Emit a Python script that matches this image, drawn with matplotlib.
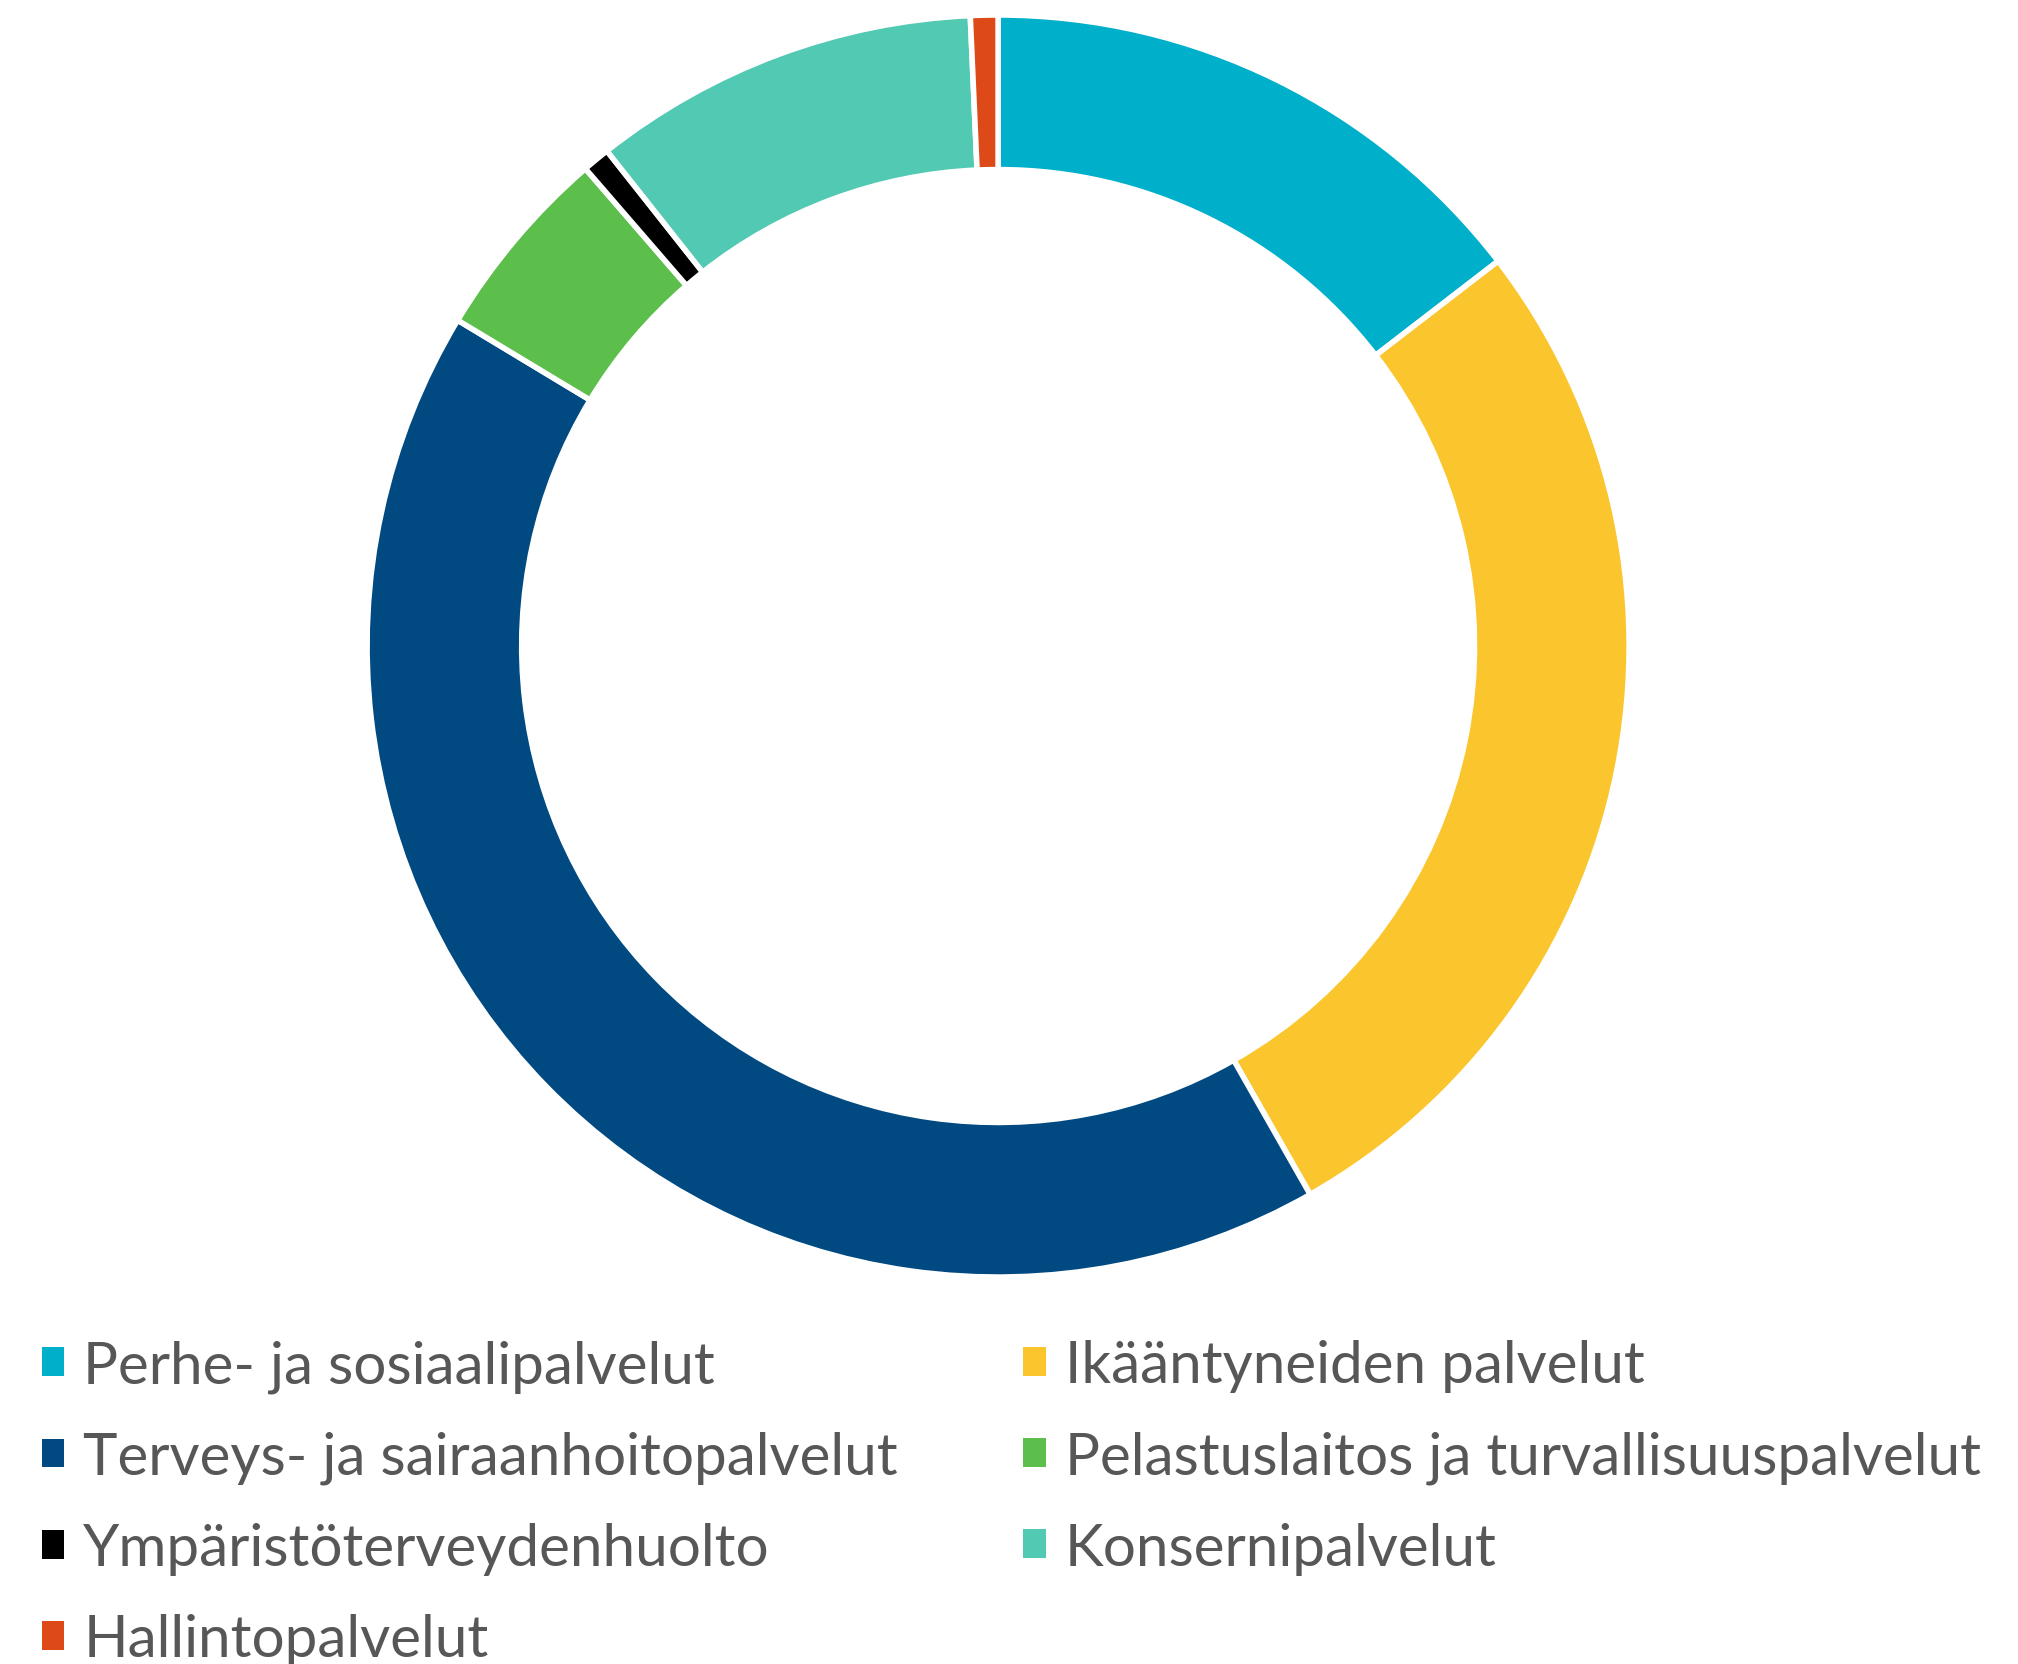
import matplotlib
matplotlib.use("Agg")
import matplotlib.pyplot as plt
from matplotlib.patches import Patch

# Data (share of total, %)
labels = [
    "Perhe- ja sosiaalipalvelut",
    "Ikääntyneiden palvelut",
    "Terveys- ja sairaanhoitopalvelut",
    "Pelastuslaitos ja turvallisuuspalvelut",
    "Ympäristöterveydenhuolto",
    "Konsernipalvelut",
    "Hallintopalvelut",
]
shares = [14.5, 27.1, 41.7, 5.0, 0.7, 9.9, 0.7]
colors = ["#00AFC9", "#FBC52E", "#004A81", "#5CBF4B", "#000000", "#52C9B3", "#DD4A17"]

plt.rcParams["font.family"] = ["Lato", "DejaVu Sans"]

fig = plt.figure(figsize=(20.18, 16.65), dpi=100)

# donut
ax = fig.add_axes([0.1819, 0.2324, 0.6254, 0.758])
ax.pie(shares, colors=colors, startangle=90, counterclock=False, radius=1.0,
       wedgeprops=dict(width=0.245, edgecolor="white", linewidth=4))
ax.set_xlim(-1, 1)
ax.set_ylim(-1, 1)
ax.set_aspect("equal")
ax.axis("off")

# legend: two columns, filled row by row
order = [0, 2, 4, 6, 1, 3, 5]
handles = [Patch(facecolor=colors[i], edgecolor="none") for i in order]
fig.legend(handles, [labels[i] for i in order], ncol=2, loc="upper left",
           bbox_to_anchor=(0.0208, 0.195), frameon=False, fontsize=42,
           labelcolor="#575757", handlelength=0.38, handleheight=0.38,
           handletextpad=0.33, columnspacing=2.15, labelspacing=0.65,
           borderaxespad=0, borderpad=0)

fig.savefig("out.png", dpi=100, facecolor="white")
